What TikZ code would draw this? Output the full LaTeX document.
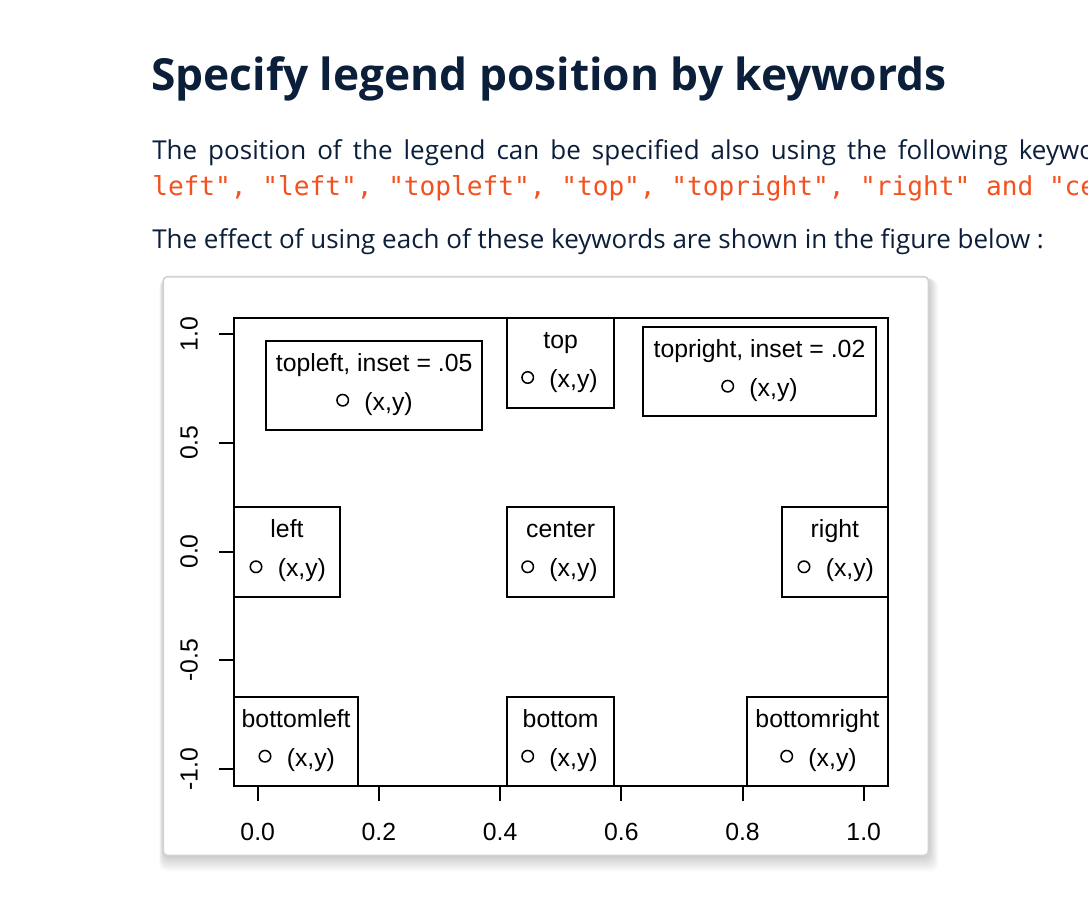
\documentclass[tikz,border=0pt]{standalone}
\usepackage{fontspec}
\setmainfont{Liberation Sans}
\newfontfamily\pagefont{Open Sans}
\newfontfamily\codefont{DejaVu Sans Mono}
\definecolor{headnavy}{HTML}{0B1F3A}
\definecolor{codered}{HTML}{F4511E}
\definecolor{cardgray}{HTML}{D2D2D2}
\begin{document}
\begin{tikzpicture}[x=0.75pt, y=-0.75pt,
  headtext/.style={font=\pagefont\bfseries\fontsize{33.2}{36}\selectfont, text=headnavy, anchor=base west, inner sep=0},
  pagetext/.style={font=\pagefont\fontsize{19.5}{22}\selectfont, text=headnavy, anchor=base west, inner sep=0},
  codetext/.style={font=\codefont\fontsize{19.6}{22}\selectfont, text=codered, anchor=base west, inner sep=0},
  plotline/.style={line width=1.5pt},
  legbox/.style={line width=1.5pt},
  legtext/.style={font=\fontsize{18.6}{20}\selectfont, anchor=base, inner sep=0},
  entrytext/.style={font=\fontsize{18.6}{20}\selectfont, anchor=base west, inner sep=0},
  pch/.style={circle, draw, line width=1.15pt, minimum size=8.6pt, inner sep=0}]
\useasboundingbox (0,0) rectangle (1088,906);
\clip (0,0) rectangle (1088,906);
\fill[white] (0,0) rectangle (1088,906);
% page text
\node[headtext] (heading) at (151,90) {Specify legend position by keywords};
\node[pagetext] (line1) at (152,159.3) {\makebox[707pt][s]{The position of the legend can be specified also using the following keywo}};
\node[codetext] (line2) at (152,195.7) {left", "left", "topleft", "top", "topright", "right" and "ce};
\node[pagetext] (line3) at (152,248.3) {The effect of using each of these keywords are shown in the figure below :};
% card with soft shadow
\foreach \s in {1,...,10}
  \fill[black, opacity=0.018, rounded corners=6pt] (163.3-\s*0.4,276.7+\s*0.2) rectangle (928.3+\s*1.0,855.3+\s*1.6);
\fill[white, draw=cardgray, line width=1.2pt, rounded corners=3pt] (163.3,276.7) rectangle (928.3,855.3);
% plot frame and axes
\draw[plotline] (233.5,318) rectangle (888,786);
\foreach \v [count=\i from 0] in {0.0,0.2,0.4,0.6,0.8,1.0} {
  \draw[plotline] (257.7+121.2*\i,786) -- ++(0,15);
  \node[legtext] (xlab\i) at (257.7+121.2*\i,840) {\v};
}
\foreach \v [count=\i from 0] in {1.0,0.5,0.0,-0.5,-1.0} {
  \draw[plotline] (233.5,334+108.75*\i) -- ++(-15,0);
  \node[legtext, rotate=90] (ylab\i) at (197.5,334+108.75*\i) {\v};
}
% legends
\draw[legbox] (266,340.7) rectangle (482.3,430.2);
\node[legtext] (tlhead) at (374.15,371.2) {topleft, inset = .05};
\node[pch] (tlpt) at (342.7,400.2) {};
\node[entrytext] (tlxy) at (364.2,410.2) {(x,y)};
\draw[legbox] (507.3,318) rectangle (614,407.5);
\node[legtext] (tophead) at (560.65,348.5) {top};
\node[pch] (toppt) at (527.7,377.5) {};
\node[entrytext] (topxy) at (549.2,387.5) {(x,y)};
\draw[legbox] (643.3,326.7) rectangle (875.7,416.2);
\node[legtext] (trhead) at (759.5,357.2) {topright, inset = .02};
\node[pch] (trpt) at (727.7,386.2) {};
\node[entrytext] (trxy) at (749.2,396.2) {(x,y)};
\draw[legbox] (233.5,507.3) rectangle (340,596.8);
\node[legtext] (lhead) at (287,537.8) {left};
\node[pch] (lpt) at (256,566.8) {};
\node[entrytext] (lxy) at (277.5,576.8) {(x,y)};
\draw[legbox] (507.3,507.3) rectangle (614,596.8);
\node[legtext] (chead) at (560.65,537.8) {center};
\node[pch] (cpt) at (527.7,566.8) {};
\node[entrytext] (cxy) at (549.2,576.8) {(x,y)};
\draw[legbox] (781.7,507.3) rectangle (888,596.8);
\node[legtext] (rhead) at (834.85,537.8) {right};
\node[pch] (rpt) at (804,566.8) {};
\node[entrytext] (rxy) at (825.5,576.8) {(x,y)};
\draw[legbox] (233.5,696.7) rectangle (358.3,786);
\node[legtext] (blhead) at (296.15,727.2) {bottomleft};
\node[pch] (blpt) at (265,756.2) {};
\node[entrytext] (blxy) at (286.5,766.2) {(x,y)};
\draw[legbox] (507.3,696.7) rectangle (614,786);
\node[legtext] (bhead) at (560.65,727.2) {bottom};
\node[pch] (bpt) at (527.7,756.2) {};
\node[entrytext] (bxy) at (549.2,766.2) {(x,y)};
\draw[legbox] (747,696.7) rectangle (888,786);
\node[legtext] (brhead) at (817.5,727.2) {bottomright};
\node[pch] (brpt) at (786.7,756.2) {};
\node[entrytext] (brxy) at (808.2,766.2) {(x,y)};
\end{tikzpicture}
\end{document}
